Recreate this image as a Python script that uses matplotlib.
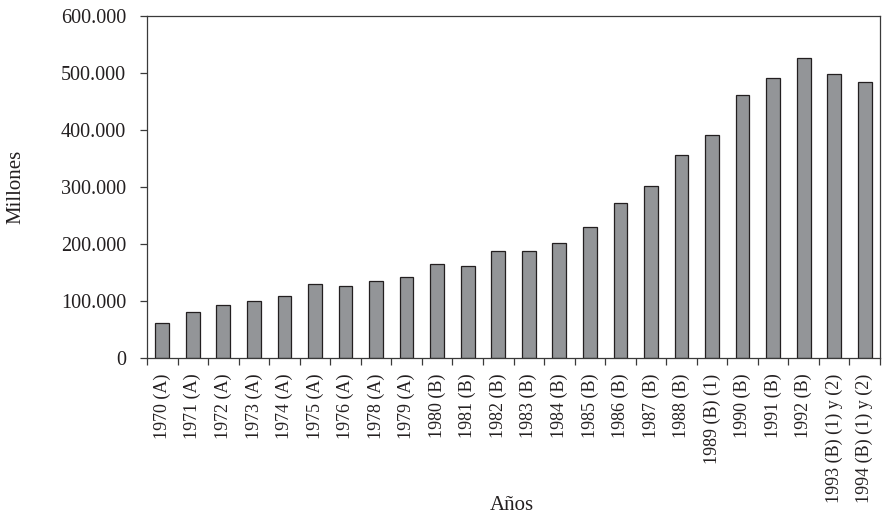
import matplotlib
matplotlib.use("Agg")
import matplotlib.pyplot as plt
import numpy as np
from matplotlib.ticker import FuncFormatter, FixedLocator

categories = ["1970 (A)", "1971 (A)", "1972 (A)", "1973 (A)", "1974 (A)", "1975 (A)",
              "1976 (A)", "1978 (A)", "1979 (A)", "1980 (B)", "1981 (B)", "1982 (B)",
              "1983 (B)", "1984 (B)", "1985 (B)", "1986 (B)", "1987 (B)", "1988 (B)",
              "1989 (B) (1)", "1990 (B)", "1991 (B)", "1992 (B)", "1993 (B) (1) y (2)",
              "1994 (B) (1) y (2)"]
values = [62500, 81000, 93000, 101000, 110000, 130000, 126000, 135000, 143000,
          165000, 162000, 188000, 188000, 202000, 230000, 272000, 302000, 356000,
          392000, 462000, 492000, 527000, 498000, 485000]
y_ticks = [0, 100000, 200000, 300000, 400000, 500000, 600000]

plt.rcParams['font.family'] = ['Liberation Serif', 'DejaVu Serif']
txt = '#231f20'

fig = plt.figure(figsize=(8.82, 5.14), dpi=100)
ax = fig.add_axes([147/882, 1 - 358.3/514, (880 - 147)/882, (358.3 - 16.3)/514])

x = np.arange(len(categories))
ax.bar(x, values, width=0.45, color='#939598', edgecolor='#231f20', linewidth=0.9, zorder=2)

ax.set_xlim(-0.5, len(categories) - 0.5)
ax.set_ylim(0, 600000)
ax.set_yticks(y_ticks)
ax.yaxis.set_major_formatter(FuncFormatter(lambda v, p: f"{int(v):,}".replace(",", ".")))

ax.set_xticks(x)
ax.set_xticklabels(categories, rotation=90, fontsize=13, color=txt)
ax.xaxis.set_minor_locator(FixedLocator(np.arange(-0.5, len(categories), 1.0)))
ax.tick_params(axis='x', which='major', length=0, pad=11)
ax.tick_params(axis='x', which='minor', length=5, width=0.9, color='#3a3a3a', direction='out')
ax.tick_params(axis='y', which='major', length=5, width=0.9, color='#3a3a3a', pad=10,
               labelsize=14.5, labelcolor=txt)

for s in ax.spines.values():
    s.set_color('#3a3a3a')
    s.set_linewidth(0.9)

fig.text(16/882, 1 - 187/514, "Millones", rotation=90, ha='center', va='center',
         fontsize=15, color=txt)
fig.text(512/882, 1 - 505/514, "Años", ha='center', va='center', fontsize=15, color=txt)

fig.savefig("out.png", dpi=100)
